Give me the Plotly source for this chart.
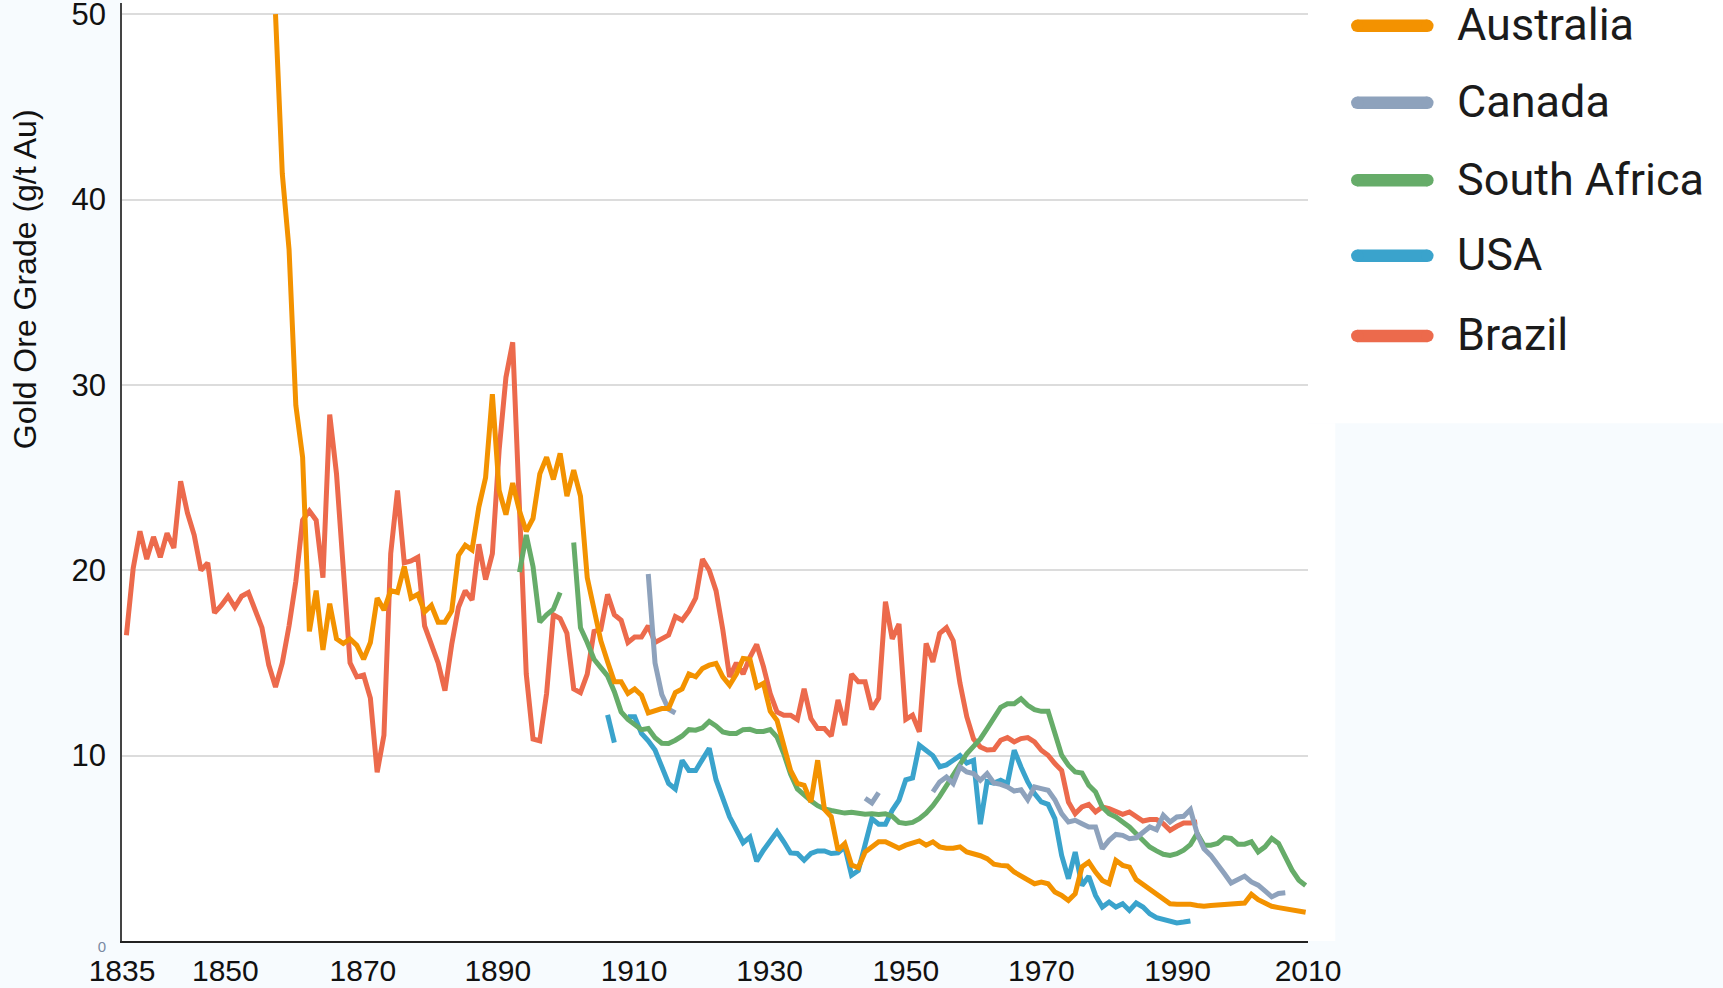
import plotly.graph_objects as go

# ---------------- data ----------------
brazil_start = 1835
brazil_values = [
    16.5, 20.1, 22.1, 20.6, 21.8, 20.7, 22.0, 21.2, 24.8, 23.1,   # 1835-1844
    21.9, 20.0, 20.4, 17.7, 18.1, 18.6, 18.0, 18.6, 18.8, 17.8,   # 1845-1854
    16.9, 14.9, 13.7, 15.0, 17.0, 19.4, 22.7, 23.2, 22.7, 19.6,   # 1855-1864
    28.4, 25.2, 20.0, 15.0, 14.25, 14.35, 13.1, 9.1, 11.1, 20.9,  # 1865-1874
    24.3, 20.4, 20.5, 20.7, 17.0, 16.0, 15.0, 13.5, 16.0, 18.0,   # 1875-1884
    18.9, 18.4, 21.4, 19.5, 20.9, 26.5, 30.4, 32.3, 23.5, 14.4,   # 1885-1894
    10.9, 10.8, 13.35, 17.6, 17.4, 16.6, 13.6, 13.4, 14.4, 16.7,  # 1895-1904
    16.8, 18.7, 17.6, 17.3, 16.1, 16.4, 16.4, 17.0, 16.1, 16.3,   # 1905-1914
    16.5, 17.5, 17.3, 17.8, 18.5, 20.6, 20.0, 18.9, 16.8, 14.25,  # 1915-1924
    15.0, 14.4, 15.3, 16.0, 14.8, 13.35, 12.36, 12.18, 12.18, 11.95,  # 1925-1934
    13.6, 12.0, 11.46, 11.46, 11.05, 13.0, 11.64, 14.4, 13.98, 13.98, # 1935-1944
    12.5, 13.1, 18.3, 16.3, 17.1, 11.95, 12.18, 11.28, 16.05, 15.06,  # 1945-1954
    16.6, 16.9, 16.2, 13.9, 12.1, 10.9, 10.47, 10.3, 10.33, 10.83,    # 1955-1964
    10.97, 10.74, 10.92, 10.97, 10.74, 10.29, 10.02, 9.57, 9.2, 7.5,  # 1965-1974
    6.87, 7.23, 7.37, 6.96, 7.23, 7.14, 6.96, 6.83, 6.96, 6.73,       # 1975-1984
    6.47, 6.55, 6.55, 6.33, 5.97, 6.19, 6.37, 6.37, 6.42,             # 1985-1993
]

australia_start = 1857
australia_values = [
    50.0, 41.4, 37.3, 28.9, 26.1, 16.7, 18.9, 15.7,                   # 1857-1864
    18.2, 16.3, 16.05, 16.3, 15.95, 15.2, 16.1, 18.5, 17.85, 18.9,    # 1865-1874
    18.8, 20.2, 18.5, 18.7, 17.75, 18.1, 17.2, 17.2, 17.8, 20.8,      # 1875-1884
    21.35, 21.1, 23.4, 25.0, 29.5, 24.3, 23.0, 24.7, 23.2, 22.1,      # 1885-1894
    22.8, 25.2, 26.1, 24.9, 26.3, 24.0, 25.4, 24.0, 19.6, 17.85,      # 1895-1904
    16.2, 15.06, 13.98, 13.98, 13.35, 13.6, 13.26, 12.3, 12.41, 12.54,  # 1905-1914
    12.54, 13.4, 13.6, 14.4, 14.25, 14.7, 14.88, 14.97, 14.25, 13.8,    # 1915-1924
    14.4, 15.24, 15.2, 13.7, 13.9, 12.4, 11.9, 10.65, 9.2, 8.5,         # 1925-1934
    8.4, 7.5, 9.75, 7.1, 6.7, 4.9, 5.25, 4.1, 3.96, 4.8,                # 1935-1944
    5.1, 5.35, 5.35, 5.17, 5.0, 5.17, 5.26, 5.4, 5.17, 5.35,            # 1945-1954
    5.08, 5.0, 5.0, 5.08, 4.8, 4.72, 4.6, 4.44, 4.14, 4.08,             # 1955-1964
    4.05, 3.72, 3.49, 3.27, 3.09, 3.18, 3.09, 2.64, 2.46, 2.19,         # 1965-1974
    2.55, 4.0, 4.26, 3.72, 3.27, 3.09, 4.35, 4.08, 3.99, 3.31,          # 1975-1984
    3.06, 2.77, 2.55, 2.28, 2.01, 1.98, 2.01, 1.98, 1.92, 1.87,         # 1985-1994
    1.92, 1.95, 1.95, 1.95, 2.0, 2.05, 2.52, 2.23, 2.05, 1.87,          # 1995-2004
    1.8, 1.75, 1.69, 1.62, 1.55,                                        # 2005-2009
]

south_africa_1893 = [19.9, 21.9, 20.2, 17.2, 17.6, 17.9, 18.8]          # 1893-1899
south_africa_1901 = [
    21.5, 16.9, 16.1, 15.2, 14.75, 14.3, 13.45, 12.36, 11.95,           # 1901-1909
    11.64, 11.4, 11.46, 10.97, 10.67, 10.65, 10.83, 11.06, 11.4, 11.37, # 1910-1919
    11.5, 11.84, 11.6, 11.28, 11.2, 11.2, 11.4, 11.42, 11.3, 11.3,      # 1920-1929
    11.4, 11.0, 10.1, 9.0, 8.2, 7.85, 7.56, 7.3, 7.13, 7.04,            # 1930-1939
    6.95, 6.9, 6.95, 6.87, 6.84, 6.86, 6.82, 6.86, 6.73, 6.4,           # 1940-1949
    6.34, 6.4, 6.6, 6.9, 7.3, 7.8, 8.4, 9.0, 9.6, 10.1,                 # 1950-1959
    10.5, 10.9, 11.46, 12.08, 12.6, 12.8, 12.8, 13.07, 12.71, 12.48,    # 1960-1969
    12.39, 12.39, 11.19, 10.02, 9.48, 9.12, 9.06, 8.4, 8.04, 7.23,      # 1970-1979
    6.87, 6.69, 6.42, 6.15, 5.79, 5.43, 5.07, 4.86, 4.68, 4.62,         # 1980-1989
    4.71, 4.9, 5.2, 5.8, 5.17, 5.17, 5.26, 5.58, 5.53, 5.22,            # 1990-1999
    5.22, 5.35, 4.81, 5.08, 5.53, 5.26, 4.54, 3.82, 3.28, 3.0,          # 2000-2009
]

canada_1912 = [19.8, 15.0, 13.3, 12.5, 12.3]                             # 1912-1916
canada_1944 = [7.7, 7.45, 8.0]                                           # 1944-1946
canada_1954 = [
    8.04, 8.58, 8.85, 8.49, 9.39, 9.12,                                  # 1954-1959
    9.03, 8.67, 9.03, 8.52, 8.45, 8.31, 8.09, 8.16, 7.62, 8.31,          # 1960-1969
    8.22, 8.13, 7.62, 6.87, 6.42, 6.51, 6.33, 6.15, 6.15, 4.98,          # 1970-1979
    5.43, 5.75, 5.7, 5.52, 5.57, 5.88, 6.15, 6.0, 6.78, 6.42,            # 1980-1989
    6.69, 6.73, 7.09, 5.79, 4.98, 4.62, 4.18, 3.64, 3.13, 3.28,          # 1990-1999
    3.5, 3.19, 3.01, 2.7, 2.38, 2.56, 2.6,                               # 2000-2006
]

usa_1906 = [12.2, 10.7]                                                  # 1906-1907
usa_1909 = [
    12.1, 12.1, 11.2, 10.8, 10.3, 9.4, 8.5, 8.2, 9.75, 9.2,              # 1909-1918
    9.2, 9.8, 10.4, 8.7, 7.6, 6.7, 6.0, 5.3, 5.6, 4.3,                   # 1919-1928
    4.9, 5.35, 5.9, 5.35, 4.75, 4.72, 4.36, 4.72, 4.86, 4.86,            # 1929-1938
    4.72, 4.75, 5.08, 3.55, 3.8, 5.2, 6.6, 6.3, 6.3, 7.05,               # 1939-1948
    7.6, 8.7, 8.8, 10.56, 10.3, 10.0, 9.4, 9.5, 9.75, 10.0,              # 1949-1958
    9.6, 9.75, 6.3, 8.6, 8.52, 8.67, 8.49, 10.29, 9.39, 8.58,            # 1959-1968
    7.95, 7.5, 7.37, 6.6, 4.62, 3.36, 4.8, 3.0, 3.49, 2.46,              # 1969-1978
    1.83, 2.1, 1.83, 2.01, 1.65, 2.05, 1.83, 1.47, 1.26, 1.15,           # 1979-1988
    1.08, 0.97, 1.02, 1.08,                                              # 1989-1992
]

series_names = ["Australia", "Canada", "South Africa", "USA", "Brazil"]
series_colors = ["#F39200", "#8EA2BC", "#66AC69", "#3AA3CC", "#EC6A4C"]

y_tick_vals = [0, 10, 20, 30, 40, 50]
x_tick_text = ["1835", "1850", "1870", "1890", "1910", "1930", "1950", "1970", "1990", "2010"]
x_tick_pos = [1834.35, 1849.6, 1869.9, 1889.8, 1909.9, 1929.9, 1950.0, 1970.0, 1990.1, 2009.35]
x_range = [1834.35, 2009.35]
y_range = [0, 50.6]
y_title = "Gold Ore Grade (g/t Au)"


def segments(*parts):
    """parts: (start_year, values) pairs -> x, y with None gaps between parts"""
    xs, ys = [], []
    for i, (start, vals) in enumerate(parts):
        if i > 0:
            xs.append(start - 0.5)
            ys.append(None)
        xs.extend(range(start, start + len(vals)))
        ys.extend(vals)
    return xs, ys


data = {
    "Brazil": segments((brazil_start, brazil_values)),
    "USA": segments((1906, usa_1906), (1909, usa_1909)),
    "South Africa": segments((1893, south_africa_1893), (1901, south_africa_1901)),
    "Canada": segments((1912, canada_1912), (1944, canada_1944), (1954, canada_1954)),
    "Australia": segments((australia_start, australia_values)),
}
color_of = dict(zip(series_names, series_colors))

fig = go.Figure()
for name in ["Brazil", "USA", "South Africa", "Canada", "Australia"]:
    xs, ys = data[name]
    fig.add_trace(go.Scatter(
        x=xs, y=ys, mode="lines", name=name, connectgaps=False,
        line=dict(color=color_of[name], width=5),
        showlegend=False, hoverinfo="x+y+name",
    ))

# ---------------- layout geometry (pixels of the 1723x988 page) ----------------
W, H = 1723, 988
PX_PER_UNIT = (940.7 - 14.0) / 50.0
L, R, B = 122, 1307.7, 940.7
T = B - PX_PER_UNIT * y_range[1]
pw, ph = R - L, B - T


def px(xp):
    return (xp - L) / pw


def py(yp):
    return (B - yp) / ph


shapes = []
# white areas of the original composite
shapes.append(dict(type="rect", xref="paper", yref="paper", x0=1.0, x1=px(W + 5),
                   y0=py(423), y1=py(-5), fillcolor="white", line=dict(width=0), layer="below"))
shapes.append(dict(type="rect", xref="paper", yref="paper", x0=1.0, x1=px(1335),
                   y0=0, y1=py(423), fillcolor="white", line=dict(width=0), layer="below"))
shapes.append(dict(type="rect", xref="paper", yref="paper", x0=0, x1=1.0,
                   y0=1.0, y1=py(-5), fillcolor="white", line=dict(width=0), layer="below"))

annotations = []
legend_y = [25.7, 102.7, 180.0, 255.7, 335.7]
lx0, lx1, lw = 1357, 1427, 12.5
r = lw / 2
for name, col, yc in zip(series_names, series_colors, legend_y):
    shapes.append(dict(type="line", xref="paper", yref="paper",
                       x0=px(lx0), x1=px(lx1), y0=py(yc), y1=py(yc),
                       line=dict(color=col, width=lw)))
    for cx in (lx0, lx1):
        shapes.append(dict(type="circle", xref="paper", yref="paper",
                           x0=px(cx - r), x1=px(cx + r), y0=py(yc + r), y1=py(yc - r),
                           fillcolor=col, line=dict(width=0)))
    annotations.append(dict(text=name, xref="paper", yref="paper",
                            x=px(1455), y=py(yc - 1), xanchor="left", yanchor="middle",
                            showarrow=False,
                            font=dict(family="Roboto, DejaVu Sans", size=45, color="#1b1b1b")))

annotations.append(dict(text=y_title, xref="paper", yref="paper",
                        x=px(25), y=py(279), xanchor="center", yanchor="middle",
                        textangle=-90, showarrow=False,
                        font=dict(family="Liberation Sans, Arial", size=32, color="#111111")))

y_tick_text = ["<span style='font-size:15px;color:#7a8aa3'>0</span>"] + [str(v) for v in y_tick_vals[1:]]

fig.update_layout(
    width=W, height=H,
    margin=dict(l=L, r=W - R, t=T, b=H - B, pad=0, autoexpand=False),
    paper_bgcolor="#F7FBFE", plot_bgcolor="white",
    font=dict(family="Liberation Sans, Arial", size=30, color="#111111"),
    shapes=shapes, annotations=annotations, showlegend=False,
    xaxis=dict(range=x_range, tickmode="array", tickvals=x_tick_pos, ticktext=x_tick_text,
               showgrid=False, zeroline=False, showline=True, linecolor="#222222", linewidth=2,
               ticks="", ticklabelstandoff=2, automargin=False, ticklabeloverflow="allow",
               tickfont=dict(size=30, color="#111111")),
    yaxis=dict(range=y_range, tickmode="array", tickvals=y_tick_vals, ticktext=y_tick_text,
               showgrid=True, gridcolor="#DCDCDC", gridwidth=1.5, zeroline=False,
               showline=True, linecolor="#444444", linewidth=1.5, automargin=False,
               ticklabeloverflow="allow",
               ticks="", ticklabelstandoff=8, tickfont=dict(size=31, color="#111111")),
)

fig.write_html("out.html", config={"displayModeBar": False},
               post_script="document.body.style.margin='0px';")
